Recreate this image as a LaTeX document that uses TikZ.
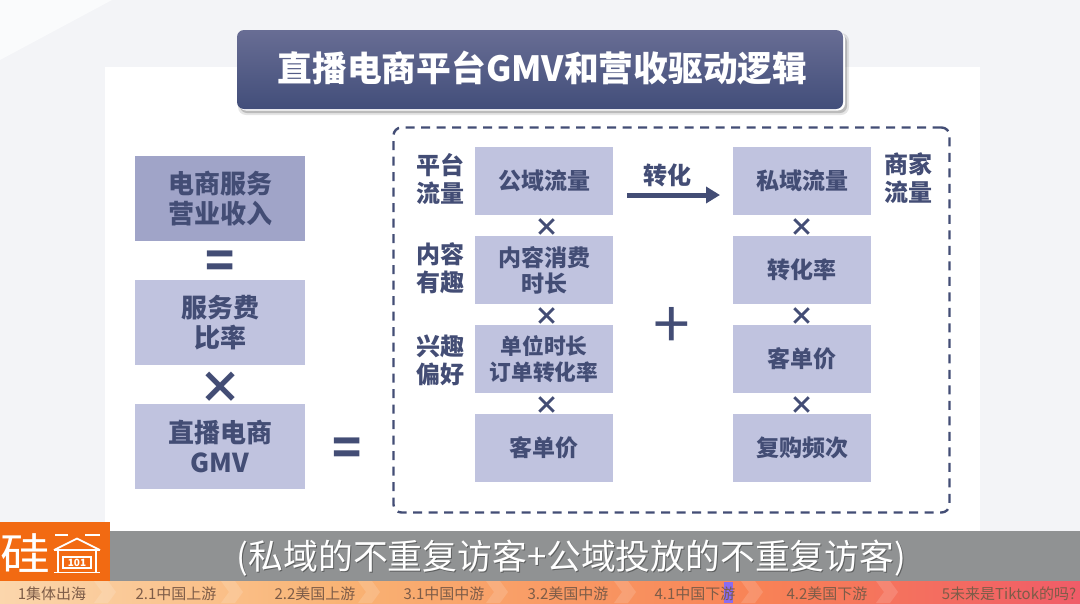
\documentclass[tikz,border=0pt]{standalone}
\usepackage{fontspec}
\setmainfont{Noto Sans CJK SC}
\usetikzlibrary{arrows.meta}
\definecolor{ink}{HTML}{434D75}
\definecolor{boxdark}{HTML}{A0A4C8}
\definecolor{boxlight}{HTML}{C0C3DF}
\definecolor{pagebg}{HTML}{F3F4F7}
\definecolor{pagelite}{HTML}{FAFBFC}
\definecolor{barbg}{HTML}{909293}
\definecolor{logoorange}{HTML}{F26A12}
\definecolor{striptext}{HTML}{7D5C48}
\definecolor{titletop}{HTML}{686D94}
\definecolor{titlebot}{HTML}{424E7A}
\definecolor{stripa}{HTML}{FBD6AC}
\definecolor{stripb}{HTML}{F9B273}
\definecolor{stripc}{HTML}{F88256}
\definecolor{stripd}{HTML}{F05C68}
\definecolor{markerv}{HTML}{8A6CF0}
\tikzset{
  x=1pt,y=-1pt,
  base/.style={inner sep=0pt,outer sep=0pt,align=center,text=ink,font=\bfseries\fontsize{24}{28}\selectfont},
  bigbox/.style={base,fill=boxlight,minimum width=170pt,minimum height=85pt,font=\bfseries\fontsize{26}{30}\selectfont},
  smallbox/.style={base,fill=boxlight,minimum width=138pt,minimum height=68pt,font=\bfseries\fontsize{23}{26}\selectfont},
  sidelabel/.style={base,font=\bfseries\fontsize{24}{28}\selectfont},
  timesmark/.style={base,font=\bfseries\fontsize{25}{25}\selectfont},
  eqmark/.style={base,font=\bfseries\fontsize{48}{48}\selectfont},
  bigtimes/.style={base,font=\bfseries\fontsize{44}{44}\selectfont},
  plusmark/.style={base,font=\fontsize{66}{66}\selectfont},
  striplabel/.style={inner sep=0pt,text=striptext,font=\fontsize{15}{15}\selectfont},
  logoline/.style={draw=white,line width=1.8pt},
}
\begin{document}
\begin{tikzpicture}
\useasboundingbox (0,0) rectangle (1080,603);
% page
\fill[pagebg] (0,0) rectangle (1080,603);
\fill[pagelite] (0,0) -- (112,0) -- (0,60) -- cycle;
\fill[white] (105,67) rectangle (980,531);
% title
\fill[black,opacity=.10,rounded corners=8pt] (238,33) rectangle (849,115);
\fill[black,opacity=.18,rounded corners=7pt] (240,35) rectangle (847,113);
\fill[white,rounded corners=7pt] (239,32) rectangle (845,110.5);
\shade[rounded corners=7pt,top color=titletop,bottom color=titlebot] (237,30) rectangle (843,109);
\node[base,text=white,font=\bfseries\fontsize{34.7}{40}\selectfont] (title) at (542.5,68) {直播电商平台GMV和营收驱动逻辑};
% dashed frame
\node[draw=ink,line width=2.4pt,dash pattern=on 9pt off 6.5pt,rounded corners=8pt,minimum width=556pt,minimum height=385pt,inner sep=0pt] (frame) at (671.5,320) {};
% left column
\node[bigbox,fill=boxdark] (revenue) at (220,198.5) {\raisebox{-1pt}{电商服务}\\\raisebox{-1pt}{营业收入}};
\node[bigbox] (rate) at (220,322.5) {\raisebox{-1pt}{服务费}\\\raisebox{-1pt}{比率}};
\node[bigbox] (gmv) at (220,446) {\raisebox{-1pt}{直播电商}\\\raisebox{-1pt}{GMV}};
\node[eqmark] (eqa) at (220,265) {=};
\node[bigtimes] (timesa) at (220,388) {×};
\node[eqmark] (eqb) at (347.5,452) {=};
% middle column
\node[smallbox] (pub) at (544,181) {\raisebox{-1pt}{公域流量}};
\node[smallbox] (dur) at (544,270) {\raisebox{-2pt}{内容消费}\\\raisebox{-2pt}{时长}};
\node[smallbox,font=\bfseries\fontsize{21.7}{26}\selectfont] (conv) at (544,359) {\raisebox{-1pt}{单位时长}\\\raisebox{-1pt}{订单转化率}};
\node[smallbox] (aov) at (544,448) {客单价};
\node[timesmark] (tma) at (547,228) {×};
\node[timesmark] (tmb) at (547,317) {×};
\node[timesmark] (tmc) at (547,406) {×};
% right column
\node[smallbox] (priv) at (802,181) {\raisebox{-1pt}{私域流量}};
\node[smallbox] (crate) at (802,270) {转化率};
\node[smallbox] (raov) at (802,359) {客单价};
\node[smallbox] (freq) at (802,448) {复购频次};
\node[timesmark] (tmd) at (802,228) {×};
\node[timesmark] (tme) at (802,317) {×};
\node[timesmark] (tmf) at (802,406) {×};
% side labels
\node[sidelabel] (la) at (440.5,179) {平台\\流量};
\node[sidelabel] (lb) at (440.5,268) {内容\\有趣};
\node[sidelabel] (lc) at (440.5,360) {兴趣\\偏好};
\node[sidelabel] (ld) at (908,178) {商家\\流量};
\node[sidelabel] (convlabel) at (667,175) {转化};
\node[plusmark] (plus) at (672,328) {+};
% arrow
\coordinate (arrowstart) at (627,195);
\coordinate (arrowend) at (720,195);
\draw[ink,line width=5pt,-{Triangle[length=14pt,width=16pt]}] (arrowstart) -- (arrowend);
% caption bar
\fill[barbg] (0,531) rectangle (1080,581);
\node[inner sep=0pt,text=black,opacity=.35,font=\fontsize{34.8}{36}\selectfont] at (572.5,559.5) {(私域的不重复访客+公域投放的不重复访客)};
\node[inner sep=0pt,text=white,font=\fontsize{34.8}{36}\selectfont] (caption) at (571.5,558) {(私域的不重复访客+公域投放的不重复访客)};
% progress strip
\shade[left color=stripa,right color=stripb] (0,581) rectangle (350,603);
\shade[left color=stripb,right color=stripc] (350,581) rectangle (760,603);
\shade[left color=stripc,right color=stripd] (760,581) rectangle (1080,603);
\foreach \cx in {108,235,372,500,628,755,890}{
  \fill[white,opacity=.14] (\cx,581) -- (\cx+8,592) -- (\cx,603) -- (\cx-14,603) -- (\cx-6,592) -- (\cx-14,581) -- cycle;
}
\fill[markerv] (724,582) rectangle (733,603);
\node[striplabel] at (52,594) {1集体出海};
\node[striplabel] at (176,594) {2.1中国上游};
\node[striplabel] at (315,594) {2.2美国上游};
\node[striplabel] at (444,594) {3.1中国中游};
\node[striplabel] at (568,594) {3.2美国中游};
\node[striplabel] at (695,594) {4.1中国下游};
\node[striplabel] at (827,594) {4.2美国下游};
\node[striplabel] at (1009,594) {5未来是Tiktok的吗?};
% logo
\fill[logoorange] (0,522) rectangle (110,581);
\node[inner sep=0pt,text=white,xscale=1.13,font=\fontsize{44}{44}\selectfont] (logochar) at (25,553) {硅};
\draw[logoline] (55,535) -- (68,535) (85,535) -- (100,535);
\draw[logoline] (54,550) -- (77,538.5) -- (100,550);
\draw[logoline] (54,550) -- (100,550);
\draw[logoline] (58,550) -- (58,572) (96,550) -- (96,572);
\draw[logoline] (54,572.5) -- (100,572.5);
\draw[white,line width=1.4pt] (63,557) rectangle (91,568);
\node[inner sep=0pt,text=white,font=\bfseries\fontsize{10}{10}\selectfont] (logonum) at (77,562.5) {101};
\end{tikzpicture}
\end{document}
